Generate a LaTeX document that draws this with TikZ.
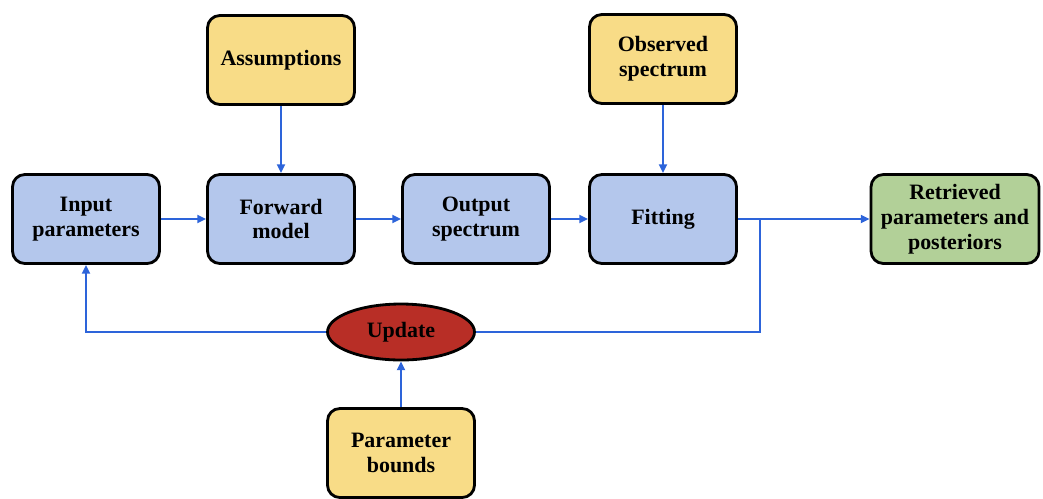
\documentclass[tikz,border=0pt]{standalone}
\usepackage{fontspec}
\setmainfont{Liberation Serif}
\usetikzlibrary{positioning,arrows.meta,shapes.geometric}

\definecolor{boxblue}{RGB}{180,199,236}
\definecolor{boxyellow}{RGB}{248,220,135}
\definecolor{boxgreen}{RGB}{178,208,152}
\definecolor{updred}{RGB}{184,46,38}
\definecolor{flowblue}{RGB}{45,100,218}

\tikzset{
  box/.style={draw, line width=1.6pt, rounded corners=7pt, minimum width=2.94cm, minimum height=1.78cm, align=center, inner sep=2pt},
  bluebox/.style={box, fill=boxblue},
  yellowbox/.style={box, fill=boxyellow},
  greenbox/.style={box, fill=boxgreen, minimum width=3.36cm},
  flowline/.style={flowblue, line width=1.35pt},
  flow/.style={flowline, -{Triangle[length=5pt,width=4.5pt]}}
}

\begin{document}
\begin{tikzpicture}[x=0.02cm, y=-0.02cm, font=\fontsize{12.5}{14.2}\selectfont\bfseries]
% 1 unit = 1 px of the 1043 x 498 layout, y grows downwards
\useasboundingbox (0,0) rectangle (1043,498);
% main chain
\node[bluebox] (input) at (86,219) {Input\\parameters};
\node[bluebox] (forward) at (281,219) {Forward\\model};
\node[bluebox] (output) at (476,219) {Output\\spectrum};
\node[bluebox] (fitting) at (663,219) {Fitting};
\node[greenbox] (retrieved) at (955,219) {Retrieved\\parameters and\\posteriors};
% inputs from above and below
\node[yellowbox] (assume) at (281,60) {Assumptions};
\node[yellowbox] (observed) at (663,59) {Observed\\spectrum};
\node[draw, ellipse, line width=1.6pt, fill=updred, minimum width=2.94cm, minimum height=1.12cm, inner sep=0pt] (update) at (401,332) {Update};
\node[yellowbox] (bounds) at (401,453) {Parameter\\bounds};
\coordinate (split) at (760,219);
% connectors
\draw[flow] (input) -- (forward);
\draw[flow] (forward) -- (output);
\draw[flow] (output) -- (fitting);
\draw[flow] (fitting) -- (retrieved);
\draw[flow] (assume) -- (forward);
\draw[flow] (observed) -- (fitting);
\draw[flowline] (split) |- (update.east);
\draw[flow] (update.west) -| (input.south);
\draw[flow] (bounds) -- (update);
\end{tikzpicture}
\end{document}
